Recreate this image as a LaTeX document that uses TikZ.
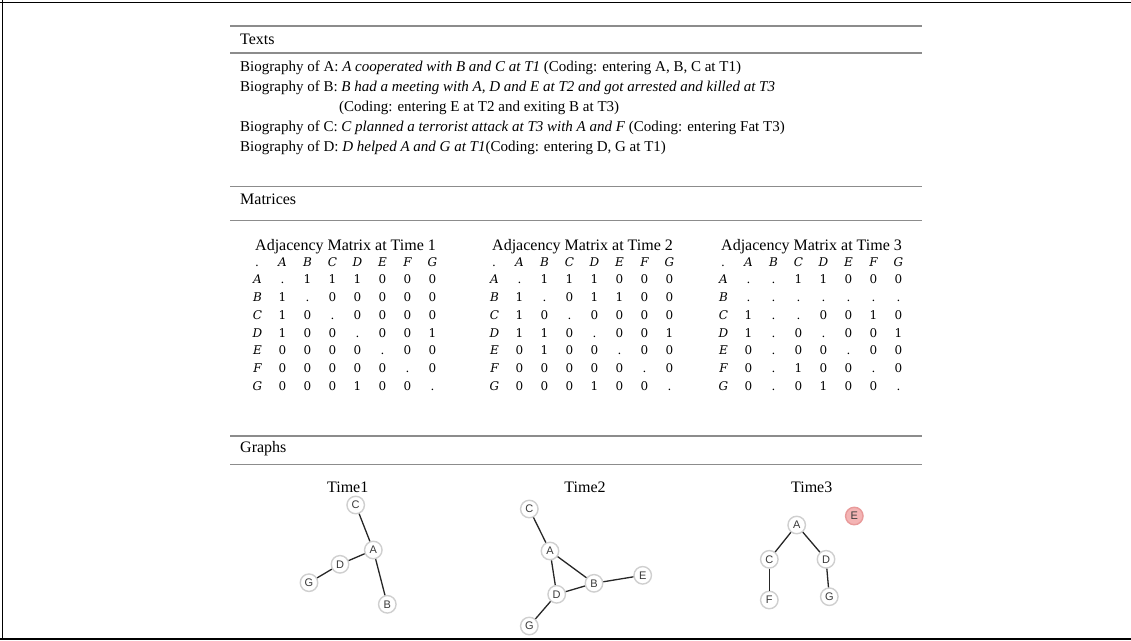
\documentclass[tikz,border=0pt]{standalone}
\usepackage{fontspec}
\setmainfont{Liberation Serif}
\setsansfont{Liberation Sans}
\newfontfamily\matfont{DejaVu Serif}
\usetikzlibrary{positioning}
\definecolor{ruleGray}{HTML}{8C8C8C}
\definecolor{vertRim}{HTML}{CFCFCF}
\definecolor{vertText}{HTML}{3A3A3A}
\definecolor{goneFill}{HTML}{F4B4B4}
\definecolor{goneRim}{HTML}{E89A9A}
\newcommand\nd{.}
\tikzset{
    secRule/.style={draw=ruleGray, line width=1.4pt},
    secHead/.style={anchor=base west, inner sep=0pt, font=\fontsize{16}{19}\selectfont},
    bioLine/.style={anchor=base west, inner sep=0pt, font=\fontsize{15}{18}\selectfont},
    matTitle/.style={anchor=base west, inner sep=0pt, font=\fontsize{16}{19}\selectfont},
    matCell/.style={anchor=base, inner sep=0pt, font=\matfont\fontsize{12}{14}\selectfont},
    % Graph parts
    vert/.style={circle, draw=vertRim, line width=1.4pt, fill=white, minimum size=17.5pt,
        inner sep=0pt, text=vertText, font=\sffamily\fontsize{11}{11}\selectfont},
    gone/.style={vert, fill=goneFill, draw=goneRim},
    link/.style={line width=1.3pt, draw=black!85},
    graphTitle/.style={anchor=base, inner sep=0pt, font=\fontsize{16}{19}\selectfont}
}
% one adjacency matrix: id, x offset, time, rows
\newcommand\adjMat[4]{%
    \node[matTitle] (title#1) at (255+#2,250) {Adjacency Matrix at Time #3};
    \node[matCell] (m#1-0-0) at (257+#2,266.2) {\nd};
    \foreach \lab [count=\c] in {A,B,C,D,E,F,G} {
        \node[matCell] (m#1-0-\c) at (257.5+25*\c+#2,266.2) {\itshape\lab};
        \node[matCell] (m#1-\c-0) at (257.5+#2,266.2+17.7*\c) {\itshape\lab};
    }
    \foreach \row [count=\r] in {#4} {
        \foreach \v [count=\c] in \row {
            \node[matCell] (m#1-\r-\c) at (257.5+25*\c+#2,266.2+17.7*\r) {\v};
        }
    }
}

\begin{document}
\begin{tikzpicture}[x=1pt, y=-1pt]
\useasboundingbox (0,0) rectangle (1131,640);
\draw[line width=1.8pt] (0,2.5) -- (1131,2.5);
\draw[line width=1.8pt] (2.5,0) -- (2.5,640);
\draw[line width=1.8pt] (0,638.6) -- (1131,638.6);

% Texts
\draw[secRule] (230,26) -- (922,26);
\node[secHead] (hTexts) at (240,44) {Texts};
\draw[secRule] (230,53) -- (922,53);
\node[bioLine] (bioA) at (240,71.5) {Biography of A: \textit{A cooperated with B and C at T1} (Coding: entering A, B, C at T1)};
\node[bioLine] (bioB) at (240,91.5) {Biography of B: \textit{B had a meeting with A, D and E at T2 and got arrested and killed at T3}};
\node[bioLine] (bioBb) at (339,111.5) {(Coding: entering E at T2 and exiting B at T3)};
\node[bioLine] (bioC) at (240,131.5) {Biography of C: \textit{C planned a terrorist attack at T3 with A and F} (Coding: entering Fat T3)};
\node[bioLine] (bioD) at (240,151.5) {Biography of D: \textit{D helped A and G at T1}(Coding: entering D, G at T1)};

% Matrices
\draw[secRule] (230,186.5) -- (922,186.5);
\node[secHead] (hMat) at (240,204) {Matrices};
\draw[secRule] (230,220.5) -- (922,220.5);
\adjMat{1}{0}{1}{{\nd,1,1,1,0,0,0},{1,\nd,0,0,0,0,0},{1,0,\nd,0,0,0,0},{1,0,0,\nd,0,0,1},
    {0,0,0,0,\nd,0,0},{0,0,0,0,0,\nd,0},{0,0,0,1,0,0,\nd}}
\adjMat{2}{237}{2}{{\nd,1,1,1,0,0,0},{1,\nd,0,1,1,0,0},{1,0,\nd,0,0,0,0},{1,1,0,\nd,0,0,1},
    {0,1,0,0,\nd,0,0},{0,0,0,0,0,\nd,0},{0,0,0,1,0,0,\nd}}
\adjMat{3}{466}{3}{{\nd,\nd,1,1,0,0,0},{\nd,\nd,\nd,\nd,\nd,\nd,\nd},{1,\nd,\nd,0,0,1,0},{1,\nd,0,\nd,0,0,1},
    {0,\nd,0,0,\nd,0,0},{0,\nd,1,0,0,\nd,0},{0,\nd,0,1,0,0,\nd}}

% Graphs
\draw[secRule] (230,436) -- (922,436);
\node[secHead] (hGraph) at (240,452) {Graphs};
\draw[secRule] (230,464.5) -- (922,464.5);

\node[graphTitle] (t1) at (347.7,492) {Time1};
\node[vert] (c1) at (355.7,505) {C};
\node[vert] (a1) at (373.3,550) {A};
\node[vert] (d1) at (340,564.3) {D};
\node[vert] (g1) at (309,582.7) {G};
\node[vert] (b1) at (387.3,604.3) {B};
\draw[link] (c1) -- (a1);
\draw[link] (a1) -- (d1);
\draw[link] (d1) -- (g1);
\draw[link] (a1) -- (b1);

\node[graphTitle] (t2) at (585,492) {Time2};
\node[vert] (c2) at (529.3,509) {C};
\node[vert] (a2) at (550,551) {A};
\node[vert] (b2) at (594,583.3) {B};
\node[vert] (e2) at (642.7,575.3) {E};
\node[vert] (d2) at (556.7,594.3) {D};
\node[vert] (g2) at (529.3,626) {G};
\draw[link] (c2) -- (a2);
\draw[link] (a2) -- (b2);
\draw[link] (a2) -- (d2);
\draw[link] (d2) -- (b2);
\draw[link] (b2) -- (e2);
\draw[link] (d2) -- (g2);

\node[graphTitle] (t3) at (811.7,492) {Time3};
\node[gone] (e3) at (854.3,516) {E};
\node[vert] (a3) at (796.7,525) {A};
\node[vert] (c3) at (769.3,559.3) {C};
\node[vert] (d3) at (826,559.3) {D};
\node[vert] (f3) at (769.3,600) {F};
\node[vert] (g3) at (829.3,596.7) {G};
\draw[link] (a3) -- (c3);
\draw[link] (a3) -- (d3);
\draw[link] (c3) -- (f3);
\draw[link] (d3) -- (g3);
\end{tikzpicture}
\end{document}
